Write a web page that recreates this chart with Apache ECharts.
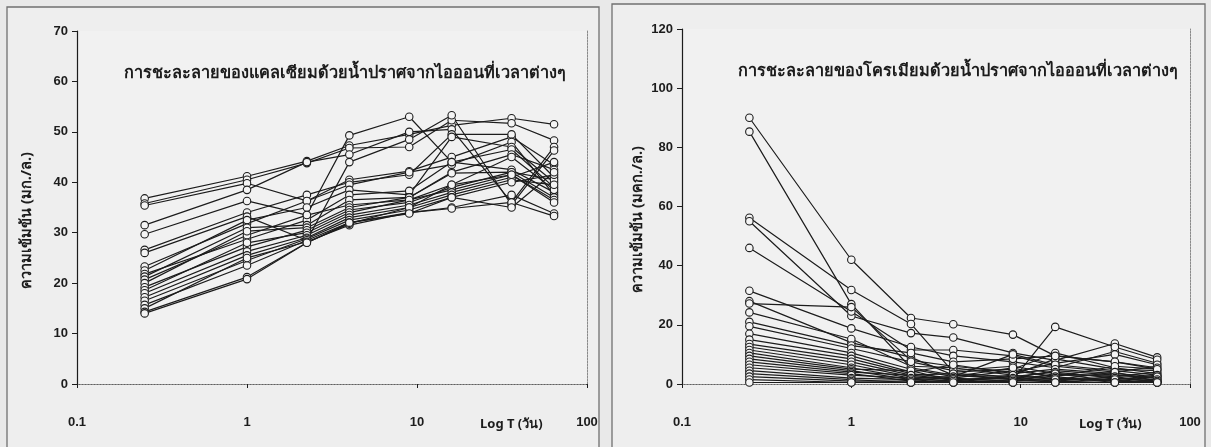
<!DOCTYPE html>
<html>
<head>
<meta charset="utf-8">
<script src="https://cdn.jsdelivr.net/npm/echarts@6/dist/echarts.min.js"></script>
<style>
  html, body { margin: 0; padding: 0; background: #e9e9e9; }
  #chart { width: 1211px; height: 447px; }
</style>
</head>
<body>
<div id="chart"></div>
<script>
// Sampling times (days)
const times = [0.25, 1, 2.25, 4, 9, 16, 36, 64];
const xTicks = ['0.1', '1', '10', '100'];

// Calcium leached with deionised water (mg/L), one array per sample
const calcium = [
  [36.8, 41.2, 44.2, 47.3, 49.5, 51.3, 52.7, 51.5],
  [35.8, 40.5, 43.8, 46.8, 47.0, 52.3, 51.7, 48.3],
  [35.4, 39.8, 36.3, 40.5, 42.2, 45.0, 49.0, 43.5],
  [31.5, 38.5, 44.0, 45.5, 50.0, 50.5, 36.0, 47.0],
  [29.7, 36.3, 33.5, 49.3, 53.0, 44.0, 42.5, 38.0],
  [26.6, 34.0, 37.5, 40.0, 41.5, 49.5, 49.5, 41.0],
  [26.0, 33.2, 28.5, 44.0, 48.5, 53.3, 35.5, 46.3],
  [23.3, 31.8, 36.3, 39.5, 42.0, 43.5, 48.0, 37.5],
  [22.5, 32.5, 35.0, 38.5, 37.5, 49.0, 47.0, 40.0],
  [21.8, 28.7, 32.5, 37.5, 38.3, 44.0, 46.5, 39.0],
  [21.3, 31.0, 31.5, 36.5, 37.0, 42.0, 45.5, 42.5],
  [20.7, 29.5, 33.5, 35.5, 36.5, 39.5, 45.0, 38.5],
  [20.0, 30.3, 31.0, 35.0, 37.0, 41.8, 42.0, 40.5],
  [19.2, 27.2, 30.5, 34.5, 36.0, 39.0, 42.0, 37.0],
  [18.6, 28.0, 30.0, 34.0, 36.5, 38.5, 41.5, 36.5],
  [18.0, 26.3, 29.5, 33.5, 35.5, 38.0, 41.0, 44.0],
  [17.2, 25.5, 29.0, 33.0, 35.0, 37.5, 40.5, 39.5],
  [16.5, 24.5, 28.8, 32.5, 34.5, 37.0, 40.0, 41.5],
  [15.7, 23.5, 28.5, 32.0, 34.0, 35.0, 37.5, 33.8],
  [15.0, 25.0, 28.2, 31.5, 34.0, 34.8, 36.0, 33.3],
  [14.3, 21.2, 28.0, 31.8, 35.0, 39.5, 41.5, 36.0],
  [14.0, 20.8, 28.0, 32.0, 33.8, 37.0, 35.0, 42.0]
];

// Chromium leached with deionised water (µg/L), one array per sample
const chromium = [
  [90.0, 42.0, 22.3, 20.2, 16.7, 9.5, 7.5, 5.0],
  [85.3, 27.0, 5.5, 3.0, 2.0, 4.5, 3.0, 2.0],
  [56.2, 31.8, 20.3, 4.0, 5.0, 10.5, 5.5, 3.5],
  [55.0, 23.0, 17.2, 15.7, 10.5, 8.0, 13.7, 9.0],
  [46.0, 24.5, 11.5, 11.5, 9.5, 6.0, 4.0, 6.0],
  [31.5, 18.8, 12.5, 9.5, 7.5, 5.5, 11.0, 7.0],
  [28.0, 14.0, 9.0, 3.0, 1.5, 19.3, 12.5, 8.2],
  [27.2, 26.0, 8.0, 6.0, 4.0, 7.0, 10.0, 6.5],
  [24.2, 15.2, 6.0, 5.5, 3.0, 8.5, 5.0, 4.5],
  [21.0, 13.0, 10.5, 7.5, 8.5, 9.5, 7.5, 5.5],
  [19.5, 12.0, 7.5, 4.5, 6.0, 3.5, 2.5, 4.0],
  [17.0, 10.5, 5.0, 2.5, 10.0, 6.5, 4.5, 3.0],
  [15.0, 9.5, 4.0, 6.5, 3.5, 5.0, 3.5, 2.5],
  [13.5, 8.5, 3.5, 2.0, 4.5, 2.5, 6.0, 5.0],
  [12.5, 7.5, 3.0, 3.5, 2.5, 4.0, 2.0, 1.5],
  [11.5, 6.5, 2.5, 1.5, 2.0, 3.0, 3.0, 2.0],
  [10.5, 5.5, 2.0, 2.5, 5.5, 2.0, 1.5, 3.0],
  [9.5, 5.0, 4.5, 1.0, 3.0, 1.5, 4.0, 1.0],
  [8.5, 4.5, 1.5, 2.0, 1.0, 3.5, 1.0, 2.5],
  [7.5, 4.0, 3.0, 1.5, 2.0, 1.0, 2.5, 0.5],
  [6.5, 3.5, 1.0, 0.5, 1.5, 2.5, 0.5, 1.5],
  [5.5, 3.0, 2.0, 1.0, 0.5, 0.5, 2.0, 1.0],
  [4.5, 2.0, 1.5, 0.5, 1.0, 2.0, 1.0, 0.5],
  [3.5, 1.5, 0.5, 1.5, 0.5, 1.0, 0.5, 1.0],
  [2.5, 1.0, 1.0, 0.5, 1.0, 1.5, 1.5, 0.5],
  [1.5, 0.5, 0.5, 1.0, 0.5, 0.5, 0.5, 0.5],
  [0.5, 0.5, 0.5, 0.5, 0.5, 0.5, 0.5, 0.5]
];

const titleCa = 'การชะละลายของแคลเซียมด้วยน้ำปราศจากไอออนที่เวลาต่างๆ';
const titleCr = 'การชะละลายของโครเมียมด้วยน้ำปราศจากไอออนที่เวลาต่างๆ';
const yNameCa = 'ความเข้มข้น (มก./ล.)';
const yNameCr = 'ความเข้มข้น (มคก./ล.)';
const xName = 'Log T (วัน)';

const FONT = '"Liberation Sans", Arial, "Noto Sans", sans-serif';
const THAI = '"Noto Sans", "Liberation Sans", "DejaVu Sans", sans-serif';
const INK = '#1c1c1c';

function lineSeries(rows, gridIndex) {
  return rows.map(vals => ({
    type: 'line',
    xAxisIndex: gridIndex * 2,
    yAxisIndex: gridIndex * 2,
    data: times.map((t, i) => [t, vals[i]]),
    symbol: 'circle',
    symbolSize: 7.5,
    lineStyle: { color: INK, width: 1.2 },
    itemStyle: { color: '#f4f4f4', borderColor: INK, borderWidth: 1.1 },
    emphasis: { disabled: true },
    animation: false
  }));
}

function xAxisMain(gridIndex) {
  return {
    type: 'log', logBase: 10, min: 0.1, max: 100, gridIndex,
    axisLine: { lineStyle: { color: INK, width: 1.2 } },
    axisTick: { show: true, length: 4, inside: false, lineStyle: { color: INK } },
    minorTick: { show: false },
    splitLine: { show: false },
    axisLabel: {
      margin: 32, color: INK, fontSize: 13, fontFamily: FONT, fontWeight: 'bold',
      formatter: v => {
        const idx = Math.round(Math.log10(v)) + 1;
        return xTicks[idx] !== undefined ? xTicks[idx] : '';
      }
    }
  };
}
function xAxisTop(gridIndex) {
  return {
    type: 'log', logBase: 10, min: 0.1, max: 100, gridIndex, position: 'top',
    axisLine: { lineStyle: { color: '#8a8a8a', width: 1, type: [2, 1] } },
    axisTick: { show: false }, axisLabel: { show: false }, splitLine: { show: false }
  };
}
function yAxisMain(gridIndex, max, interval, name, gap) {
  return {
    type: 'value', min: 0, max, interval, gridIndex,
    name, nameLocation: 'middle', nameGap: gap, nameRotate: 90,
    nameTextStyle: { color: INK, fontSize: 14.5, fontFamily: THAI, fontWeight: 'bold', padding: [0, 26, 0, 0] },
    axisLine: { show: true, lineStyle: { color: INK, width: 1.2 } },
    axisTick: { show: true, length: 5, lineStyle: { color: INK } },
    splitLine: { show: false },
    axisLabel: { margin: 9, color: INK, fontSize: 13, fontFamily: FONT, fontWeight: 'bold' }
  };
}
function yAxisRight(gridIndex, max) {
  return {
    type: 'value', min: 0, max, gridIndex, position: 'right',
    axisLine: { show: true, lineStyle: { color: '#8a8a8a', width: 1, type: [2, 1] } },
    axisTick: { show: false }, axisLabel: { show: false }, splitLine: { show: false }
  };
}

const chart = echarts.init(document.getElementById('chart'), null, { renderer: 'canvas' });
chart.setOption({
  backgroundColor: '#e9e9e9',
  animation: false,
  graphic: [
    { type: 'rect', shape: { x: 7, y: 7, width: 592, height: 460 },
      style: { fill: '#eeeeee', stroke: '#707070', lineWidth: 1.3 }, z: -10 },
    { type: 'rect', shape: { x: 612, y: 4, width: 593, height: 463 },
      style: { fill: '#eeeeee', stroke: '#707070', lineWidth: 1.3 }, z: -10 }
  ],
  title: [
    { text: titleCa, left: 119, top: 60,
      textStyle: { fontSize: 16.3, fontWeight: 'bold', color: INK, fontFamily: THAI } },
    { text: titleCr, left: 733, top: 58,
      textStyle: { fontSize: 16.3, fontWeight: 'bold', color: INK, fontFamily: THAI } },
    { text: xName, left: 475, top: 413,
      textStyle: { fontSize: 13, fontWeight: 'bold', color: INK, fontFamily: THAI } },
    { text: xName, left: 1074, top: 413,
      textStyle: { fontSize: 13, fontWeight: 'bold', color: INK, fontFamily: THAI } }
  ],
  grid: [
    { left: 77, top: 31, width: 510, height: 353, show: true, backgroundColor: '#f1f1f1', borderWidth: 0 },
    { left: 682, top: 29, width: 508, height: 355, show: true, backgroundColor: '#f1f1f1', borderWidth: 0 }
  ],
  xAxis: [xAxisMain(0), xAxisTop(0), xAxisMain(1), xAxisTop(1)],
  yAxis: [
    yAxisMain(0, 70, 10, yNameCa, 43), yAxisRight(0, 70),
    yAxisMain(1, 120, 20, yNameCr, 37), yAxisRight(1, 120)
  ],
  series: [...lineSeries(calcium, 0), ...lineSeries(chromium, 1)]
});
</script>
</body>
</html>
